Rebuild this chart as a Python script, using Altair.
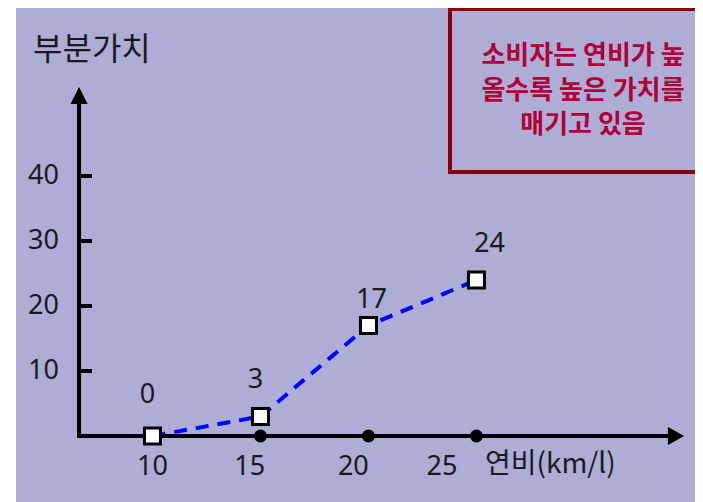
import altair as alt
import pandas as pd

# ---- data ----
fuel = [10, 15, 20, 25]
part_worth = [0, 3, 17, 24]
value_label_x = [9.77, 14.77, 20.14, 25.6]     # where the value labels sit
value_label_y = [6.3, 8.6, 20.9, 29.5]
y_ticks = [10, 20, 30, 40]
x_labels = ["10", "15", "20", "25"]
x_label_pos = [10, 14.5, 19.3, 23.4]
y_labels = ["10", "20", "30", "40"]
y_title = "부분가치"
x_title = "연비(km/l)"
note_lines = ["소비자는 연비가 높", "올수록 높은 가치를", "매기고 있음"]

# ---- style / layout constants ----
BG = "#ADADD6"
X_DOMAIN = [3.68, 35.12]
Y_DOMAIN = [-10.15, 65.85]
AXIS_X = 6.6
X_END = 33.9
X_ARROW = 34.24
Y_END = 51.6
Y_ARROW = 52.4
TICK_END = 7.2
NUM_FONT = "Noto Sans"
KO_FONT = "Noto Sans CJK KR"
TXT = "#1a1a1a"

xs = alt.Scale(domain=X_DOMAIN, nice=False, zero=False)
ys = alt.Scale(domain=Y_DOMAIN, nice=False, zero=False)

pts = pd.DataFrame({"fuel": fuel, "v": part_worth,
                    "lx": value_label_x, "ly": value_label_y,
                    "label": [str(v) for v in part_worth]})


def X(f):
    return alt.X(f, scale=xs, axis=None)


def Y(f):
    return alt.Y(f, scale=ys, axis=None)


line = alt.Chart(pts).mark_line(color="#0000FF", strokeWidth=4,
                                strokeDash=[13, 9]).encode(x=X("fuel:Q"), y=Y("v:Q"))

axes_df = pd.DataFrame({"x": [AXIS_X, AXIS_X], "x2": [X_END, AXIS_X],
                        "y": [0, 0], "y2": [0, Y_END]})
axes = alt.Chart(axes_df).mark_rule(color="black", strokeWidth=4,
                                    strokeCap="square").encode(
    x=X("x:Q"), x2="x2:Q", y=Y("y:Q"), y2="y2:Q")

ticks_df = pd.DataFrame({"y": y_ticks, "x": [AXIS_X] * len(y_ticks),
                         "x2": [TICK_END] * len(y_ticks)})
ticks = alt.Chart(ticks_df).mark_rule(color="black", strokeWidth=4).encode(
    x=X("x:Q"), x2="x2:Q", y=Y("y:Q"))

arrows_df = pd.DataFrame({
    "x": [X_ARROW, AXIS_X], "y": [0, Y_ARROW],
    "shape": ["M0.9,0L-0.9,-1L-0.9,1Z", "M0,-0.95L0.95,0.95L-0.95,0.95Z"]})
arrows = alt.Chart(arrows_df).mark_point(filled=True, color="black", size=324,
                                         opacity=1).encode(
    x=X("x:Q"), y=Y("y:Q"), shape=alt.Shape("shape:N", scale=None, legend=None))

dots = alt.Chart(pd.DataFrame({"fuel": fuel, "y": [0] * len(fuel)})).mark_circle(
    size=169, color="black", opacity=1).encode(x=X("fuel:Q"), y=Y("y:Q"))

squares = alt.Chart(pts).mark_point(shape="square", filled=False, fill="white",
                                    stroke="black", strokeWidth=3, size=256,
                                    opacity=1, fillOpacity=1).encode(
    x=X("fuel:Q"), y=Y("v:Q"))

vlabels = alt.Chart(pts).mark_text(fontSize=27, font=NUM_FONT,
                                   color=TXT, baseline="middle").encode(
    x=X("lx:Q"), y=Y("ly:Q"), text="label:N")

xl = alt.Chart(pd.DataFrame({"p": x_label_pos, "t": x_labels})).mark_text(
    fontSize=27, font=NUM_FONT, color=TXT, baseline="middle").encode(
    x=X("p:Q"), y=alt.value(459), text="t:N")

yl = alt.Chart(pd.DataFrame({"y": y_ticks, "t": y_labels})).mark_text(
    fontSize=27, font=NUM_FONT, color=TXT, baseline="middle", align="right").encode(
    x=alt.value(43), y=Y("y:Q"), text="t:N")

one = pd.DataFrame({"a": [0]})
ytitle = alt.Chart(one).mark_text(text=y_title, fontSize=32, font=KO_FONT,
                                  color=TXT, align="left",
                                  baseline="middle").encode(
    x=alt.value(17), y=alt.value(42))
xtitle = alt.Chart(one).mark_text(text=x_title, fontSize=28, font=KO_FONT,
                                  color=TXT, align="left", baseline="middle").encode(
    x=alt.value(469), y=alt.value(457))

box = alt.Chart(one).mark_rect(fill=BG, stroke="#8B0000", strokeWidth=4).encode(
    x=alt.value(434), x2=alt.value(700), y=alt.value(1), y2=alt.value(164))
note = alt.Chart(one).mark_text(text=note_lines, fontSize=26, font=KO_FONT,
                                fontWeight="bold", color="#B0003A", lineHeight=34.5,
                                align="center", baseline="middle").encode(
    x=alt.value(567), y=alt.value(48))

chart = alt.layer(line, axes, ticks, arrows, dots, squares, vlabels, xl, yl,
                  ytitle, xtitle, box, note).properties(
    width=679, height=494, background="white",
    padding={"left": 8, "top": 0, "right": 0, "bottom": 0},
    autosize=alt.AutoSizeParams(type="none"),
).configure_view(strokeWidth=0, fill=BG)

chart.save("out.html", embed_options={"renderer": "svg", "actions": False})
